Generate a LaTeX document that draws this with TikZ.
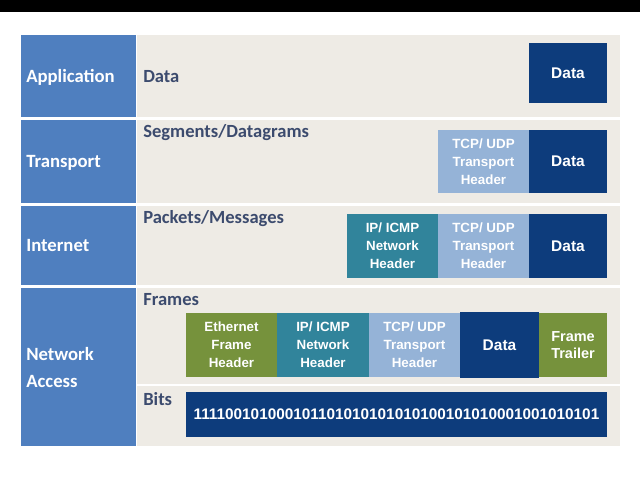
\documentclass[tikz,border=0pt]{standalone}
\usepackage{fontspec}
\setmainfont{Liberation Sans}
\newfontfamily\labelfont{Carlito}
\usetikzlibrary{positioning}
\definecolor{layerblue}{HTML}{4F7FBF}
\definecolor{panelgray}{HTML}{EEEBE5}
\definecolor{datablue}{HTML}{0D3C7C}
\definecolor{tcpblue}{HTML}{95B3D7}
\definecolor{ipteal}{HTML}{31849B}
\definecolor{ethgreen}{HTML}{76923C}
\definecolor{unittext}{HTML}{3C4B6E}

\begin{document}
\begin{tikzpicture}[
    x=0.025cm, y=-0.025cm,
    layer/.style     = {fill=layerblue},
    panel/.style     = {fill=panelgray},
    layername/.style = {anchor=base west, inner sep=0pt, text=white, align=left,
                        font=\labelfont\bfseries\fontsize{13.3}{19.1}\selectfont},
    unitname/.style  = {anchor=base west, inner sep=0pt, text=unittext,
                        font=\labelfont\bfseries\fontsize{13.2}{14}\selectfont},
    fieldtext/.style = {text=white, align=center, inner sep=0pt,
                        font=\bfseries\fontsize{9.5}{12.8}\selectfont},
    datatext/.style  = {fieldtext, font=\bfseries\fontsize{11}{12.8}\selectfont},
    trailtext/.style = {fieldtext, font=\bfseries\fontsize{10.3}{12.6}\selectfont},
]

% Fixed canvas, same size as the screen grab
\useasboundingbox (0,0) rectangle (640,480);
\fill[white] (0,0) rectangle (640,480);
\fill[black] (0,0) rectangle (640,12);

% --- the four layers ---------------------------------------------------
\fill[layer] (21,35)  rectangle (136,117);
\fill[layer] (21,120) rectangle (136,203);
\fill[layer] (21,206) rectangle (136,285);
\fill[layer] (21,288) rectangle (136,446);
\fill[panel] (137,35)  rectangle (620,117);
\fill[panel] (137,120) rectangle (620,203);
\fill[panel] (137,206) rectangle (620,285);
\fill[panel] (137,288) rectangle (620,384);
\fill[panel] (137,386) rectangle (620,446);

\node[layername] (application) at (26,82)  {Application};
\node[layername] (transport)   at (26,167) {Transport};
\node[layername] (internet)    at (26,251) {Internet};
\node[layername] (netaccess)   at (26,387) {Network\\Access};

% --- protocol data unit names -----------------------------------------
\node[unitname] (pdudata)    at (143,82)  {Data};
\node[unitname] (pdusegment) at (143,137) {Segments/Datagrams};
\node[unitname] (pdupacket)  at (143,223) {Packets/Messages};
\node[unitname] (pduframe)   at (143,305) {Frames};
\node[unitname] (pdubits)    at (143,405) {Bits};

% --- application: data only ------------------------------------------
\fill[datablue] (529,43) rectangle (607,103)
    node[midway, datatext] (appdata) {Data};

% --- transport: segment -----------------------------------------------
\fill[tcpblue]  (438,130) rectangle (529,193)
    node[midway, fieldtext] (segtcp) {TCP/ UDP\\Transport\\Header};
\fill[datablue] (529,130) rectangle (607,193)
    node[midway, datatext] (segdata) {Data};

% --- internet: packet -------------------------------------------------
\fill[ipteal]   (347,214) rectangle (438,278)
    node[midway, fieldtext] (pktip) {IP/ ICMP\\Network\\Header};
\fill[tcpblue]  (438,214) rectangle (529,278)
    node[midway, fieldtext] (pkttcp) {TCP/ UDP\\Transport\\Header};
\fill[datablue] (529,214) rectangle (607,278)
    node[midway, datatext] (pktdata) {Data};

% --- network access: frame and bits -----------------------------------
\fill[ethgreen] (186,313) rectangle (277,377)
    node[midway, fieldtext] (frmeth) {Ethernet\\Frame\\Header};
\fill[ipteal]   (277,313) rectangle (369,377)
    node[midway, fieldtext] (frmip) {IP/ ICMP\\Network\\Header};
\fill[tcpblue]  (369,313) rectangle (460,377)
    node[midway, fieldtext] (frmtcp) {TCP/ UDP\\Transport\\Header};
\fill[datablue] (460,312) rectangle (539,378)
    node[midway, datatext] (frmdata) {Data};
\fill[ethgreen] (539,313) rectangle (607,377)
    node[midway, trailtext] (frmtrail) {Frame\\Trailer};
\fill[datablue] (186,392) rectangle (607,437)
    node[midway, fieldtext, font=\bfseries\fontsize{10.9}{12}\selectfont] (bitstream)
    {111100101000101101010101010100101010001001010101};

\end{tikzpicture}
\end{document}
